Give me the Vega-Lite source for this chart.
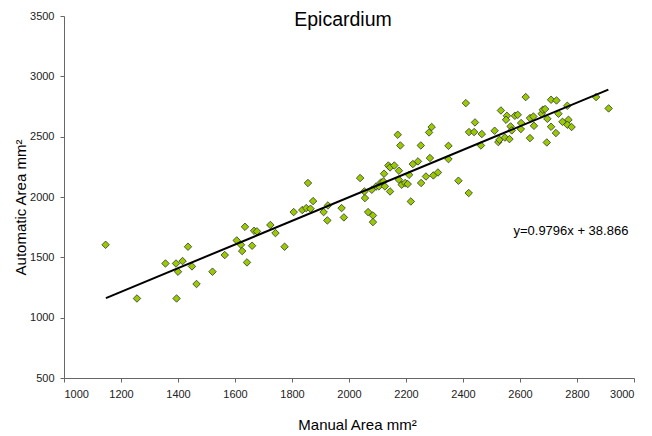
{
  "$schema": "https://vega.github.io/schema/vega-lite/v6.json",
  "autosize": "none",
  "width": 570,
  "height": 362,
  "padding": {"left": 64, "top": 16, "right": 18, "bottom": 58},
  "background": "white",
  "config": {
    "view": {"stroke": null},
    "font": "Liberation Sans"
  },
  "title": {
    "text": "Epicardium",
    "font": "Liberation Sans",
    "fontSize": 19.5,
    "fontWeight": "normal",
    "color": "#000",
    "anchor": "middle",
    "baseline": "alphabetic",
    "offset": 0,
    "dx": -6,
    "dy": 35
  },
  "datasets": {
    "pts": [
      {"manual": 1146, "auto": 1604}, {"manual": 1256, "auto": 1159}, {"manual": 1356, "auto": 1449}, {"manual": 1393, "auto": 1449},
      {"manual": 1435, "auto": 1588}, {"manual": 1416, "auto": 1469}, {"manual": 1400, "auto": 1381}, {"manual": 1395, "auto": 1159},
      {"manual": 1449, "auto": 1425}, {"manual": 1465, "auto": 1279}, {"manual": 1521, "auto": 1381}, {"manual": 1564, "auto": 1519},
      {"manual": 1606, "auto": 1640}, {"manual": 1621, "auto": 1604}, {"manual": 1625, "auto": 1552}, {"manual": 1635, "auto": 1753},
      {"manual": 1642, "auto": 1458}, {"manual": 1660, "auto": 1596}, {"manual": 1667, "auto": 1720}, {"manual": 1677, "auto": 1715},
      {"manual": 1724, "auto": 1768}, {"manual": 1742, "auto": 1701}, {"manual": 1774, "auto": 1588}, {"manual": 1924, "auto": 1806},
      {"manual": 1856, "auto": 2116}, {"manual": 1874, "auto": 1966}, {"manual": 1806, "auto": 1875}, {"manual": 1836, "auto": 1892},
      {"manual": 1850, "auto": 1908}, {"manual": 1865, "auto": 1903}, {"manual": 1911, "auto": 1875}, {"manual": 1926, "auto": 1930},
      {"manual": 1974, "auto": 1908}, {"manual": 1982, "auto": 1831}, {"manual": 2067, "auto": 1875}, {"manual": 2084, "auto": 1847},
      {"manual": 2084, "auto": 1792}, {"manual": 2056, "auto": 1991}, {"manual": 2095, "auto": 2087},
      {"manual": 2039, "auto": 2157}, {"manual": 2054, "auto": 2046}, {"manual": 2080, "auto": 2060}, {"manual": 2123, "auto": 2193},
      {"manual": 2138, "auto": 2261}, {"manual": 2144, "auto": 2245}, {"manual": 2159, "auto": 2261}, {"manual": 2175, "auto": 2218},
      {"manual": 2112, "auto": 2121}, {"manual": 2121, "auto": 2129}, {"manual": 2105, "auto": 2088}, {"manual": 2126, "auto": 2088},
      {"manual": 2144, "auto": 2046}, {"manual": 2171, "auto": 2516}, {"manual": 2180, "auto": 2427}, {"manual": 2175, "auto": 2143},
      {"manual": 2185, "auto": 2102}, {"manual": 2197, "auto": 2116}, {"manual": 2206, "auto": 2107}, {"manual": 2211, "auto": 2184},
      {"manual": 2224, "auto": 2273}, {"manual": 2242, "auto": 2295}, {"manual": 2252, "auto": 2427}, {"manual": 2284, "auto": 2323},
      {"manual": 2281, "auto": 2535}, {"manual": 2290, "auto": 2580}, {"manual": 2217, "auto": 1963}, {"manual": 2253, "auto": 2116},
      {"manual": 2270, "auto": 2170}, {"manual": 2296, "auto": 2179}, {"manual": 2312, "auto": 2203}, {"manual": 2349, "auto": 2424},
      {"manual": 2349, "auto": 2314}, {"manual": 2384, "auto": 2135}, {"manual": 2420, "auto": 2033}, {"manual": 2410, "auto": 2778},
      {"manual": 2442, "auto": 2618}, {"manual": 2421, "auto": 2538}, {"manual": 2439, "auto": 2538}, {"manual": 2466, "auto": 2522},
      {"manual": 2463, "auto": 2427}, {"manual": 2511, "auto": 2549}, {"manual": 2524, "auto": 2455}, {"manual": 2528, "auto": 2474},
      {"manual": 2547, "auto": 2493}, {"manual": 2563, "auto": 2480}, {"manual": 2533, "auto": 2717}, {"manual": 2554, "auto": 2673},
      {"manual": 2551, "auto": 2640}, {"manual": 2582, "auto": 2673}, {"manual": 2592, "auto": 2681}, {"manual": 2567, "auto": 2585},
      {"manual": 2571, "auto": 2552}, {"manual": 2604, "auto": 2613}, {"manual": 2603, "auto": 2563}, {"manual": 2620, "auto": 2828},
      {"manual": 2635, "auto": 2488}, {"manual": 2635, "auto": 2654}, {"manual": 2647, "auto": 2667}, {"manual": 2649, "auto": 2590},
      {"manual": 2676, "auto": 2690}, {"manual": 2680, "auto": 2723}, {"manual": 2688, "auto": 2729}, {"manual": 2696, "auto": 2648},
      {"manual": 2709, "auto": 2806}, {"manual": 2728, "auto": 2800}, {"manual": 2709, "auto": 2582}, {"manual": 2694, "auto": 2452},
      {"manual": 2726, "auto": 2530}, {"manual": 2735, "auto": 2690}, {"manual": 2766, "auto": 2756}, {"manual": 2749, "auto": 2623},
      {"manual": 2770, "auto": 2640}, {"manual": 2766, "auto": 2599}, {"manual": 2781, "auto": 2580}, {"manual": 2867, "auto": 2828},
      {"manual": 2911, "auto": 2734}
    ],
    "trend": [
      {"manual": 1147, "auto": 1162.5},
      {"manual": 2910, "auto": 2889.5}
    ],
    "eq": [
      {"label": "y=0.9796x + 38.866"}
    ]
  },
  "layer": [
    {
      "data": {"name": "pts"},
      "mark": {"type": "point", "shape": "diamond", "filled": true, "size": 56, "fill": "#99cc00", "stroke": "#333333", "strokeWidth": 0.8, "opacity": 1},
      "encoding": {
        "x": {
          "field": "manual", "type": "quantitative",
          "scale": {"domain": [1000, 3000], "nice": false, "zero": false},
          "axis": {
            "title": "Manual Area mm²",
            "values": [1000, 1200, 1400, 1600, 1800, 2000, 2200, 2400, 2600, 2800, 3000],
            "format": "d",
            "grid": false,
            "domainColor": "#666666",
            "tickColor": "#666666",
            "tickSize": 4,
            "labelFont": "Liberation Sans",
            "labelFontSize": 11,
            "labelColor": "#222222",
            "labelPadding": 6,
            "titleFont": "Liberation Sans",
            "titleFontSize": 15,
            "titleFontWeight": "normal",
            "titleColor": "#000000",
            "titleX": 293,
            "titleY": 46,
            "titleAlign": "center",
            "titleBaseline": "middle"
          }
        },
        "y": {
          "field": "auto", "type": "quantitative",
          "scale": {"domain": [500, 3500], "nice": false, "zero": false},
          "axis": {
            "title": "Automatic Area mm²",
            "values": [500, 1000, 1500, 2000, 2500, 3000, 3500],
            "format": "d",
            "grid": false,
            "domainColor": "#666666",
            "tickColor": "#666666",
            "tickSize": 4,
            "labelFont": "Liberation Sans",
            "labelFontSize": 11,
            "labelColor": "#222222",
            "labelPadding": 6,
            "titleFont": "Liberation Sans",
            "titleFontSize": 15,
            "titleFontWeight": "normal",
            "titleColor": "#000000",
            "titleAngle": -90,
            "titleX": -44,
            "titleY": 191,
            "titleAlign": "center",
            "titleBaseline": "middle"
          }
        }
      }
    },
    {
      "data": {"name": "trend"},
      "mark": {"type": "line", "color": "#000000", "strokeWidth": 2},
      "encoding": {
        "x": {"field": "manual", "type": "quantitative"},
        "y": {"field": "auto", "type": "quantitative"}
      }
    },
    {
      "data": {"name": "eq"},
      "mark": {"type": "text", "align": "left", "baseline": "middle", "font": "Liberation Sans", "fontSize": 13, "color": "#000000"},
      "encoding": {
        "x": {"datum": 2577, "type": "quantitative"},
        "y": {"datum": 1720, "type": "quantitative"},
        "text": {"field": "label"}
      }
    }
  ]
}
